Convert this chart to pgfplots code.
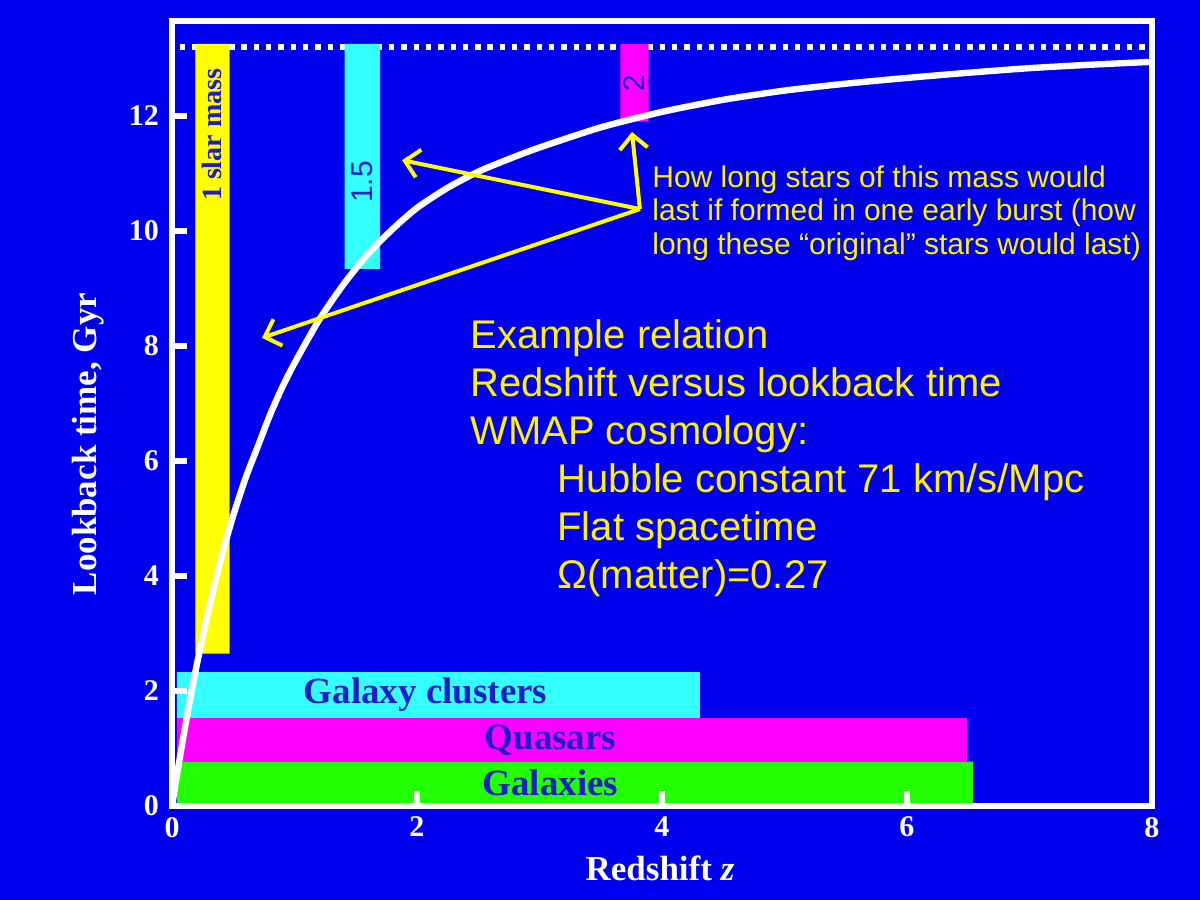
\documentclass[border=0pt]{standalone}
\usepackage{pgfplots}
\pgfplotsset{compat=1.18}
\usepackage{fontspec}
\setmainfont{Liberation Serif}
\newfontfamily\arial{Liberation Sans}
\usetikzlibrary{arrows.meta}
\definecolor{bgblue}{RGB}{0,0,240}
\definecolor{barcyan}{RGB}{51,255,255}
\definecolor{barmag}{RGB}{255,0,255}
\definecolor{bargreen}{RGB}{34,255,0}
\definecolor{baryel}{RGB}{255,255,0}
\definecolor{txtblue}{RGB}{30,30,200}
\definecolor{arryel}{RGB}{255,255,0}
\begin{document}
\begin{tikzpicture}
\fill[bgblue] (0,0) rectangle (600pt,450pt);
\begin{axis}[
  at={(86pt,47pt)}, anchor=south west,
  scale only axis, width=490pt, height=392.5pt,
  xmin=0, xmax=8, ymin=0, ymax=13.65,
  axis line style={white, line width=3pt},
  xtick={0,2,4,6,8}, ytick={0,2,4,6,8,10,12},
  xtick pos=bottom, ytick pos=left,
  tick align=inside, major tick length=7.5pt,
  tick style={white, line width=3pt},
  /pgf/number format/assume math mode=true,
  ticklabel style={font=\fontsize{15}{17}\selectfont\bfseries, text=white},
  xticklabel style={yshift=-2pt},
  yticklabel style={xshift=-3pt},
  xlabel={Redshift \textit{z}},
  ylabel={Lookback time, Gyr},
  label style={font=\fontsize{17.5}{21}\selectfont\bfseries, text=white},
  x label style={at={(axis description cs:0.498,-0.079)}, anchor=center},
  y label style={at={(axis description cs:-0.0857,0.461)}, anchor=center},
  axis on top,
  clip=false,
]
% dotted asymptote
\addplot[white, line width=2.7pt, dash pattern=on 2.7pt off 3.45pt] coordinates {(0.065,13.2) (7.97,13.2)};
% vertical bars
\addplot[fill=baryel, draw=none] coordinates {(0.19,2.65) (0.47,2.65) (0.47,13.25) (0.19,13.25) (0.19,2.65)};
\addplot[fill=barcyan, draw=none] coordinates {(1.41,9.34) (1.70,9.34) (1.70,13.25) (1.41,13.25) (1.41,9.34)};
\addplot[fill=barmag, draw=none] coordinates {(3.66,11.9) (3.89,11.9) (3.89,13.25) (3.66,13.25) (3.66,11.9)};
% horizontal bars
\addplot[fill=barcyan, draw=none] coordinates {(0.04,1.53) (4.31,1.53) (4.31,2.33) (0.04,2.33) (0.04,1.53)};
\addplot[fill=barmag, draw=none] coordinates {(0.04,0.77) (6.49,0.77) (6.49,1.53) (0.04,1.53) (0.04,0.77)};
\addplot[fill=bargreen, draw=none] coordinates {(0.04,0) (6.54,0) (6.54,0.77) (0.04,0.77) (0.04,0)};
% bar labels
\node[rotate=90, text=txtblue, font=\fontsize{14}{16}\selectfont\bfseries, inner sep=0] at (axis cs:0.327,11.67) {1 slar mass};
\node[rotate=90, text=txtblue, font=\arial\fontsize{15}{17}\selectfont, inner sep=0] at (axis cs:1.555,10.85) {1.5};
\node[rotate=90, text=txtblue, font=\arial\fontsize{15}{17}\selectfont, inner sep=0] at (axis cs:3.775,12.57) {2};
\node[text=txtblue, font=\fontsize{18.5}{20}\selectfont\bfseries, inner sep=0] at (axis cs:2.07,1.93) {Galaxy clusters};
\node[text=txtblue, font=\fontsize{18.5}{20}\selectfont\bfseries, inner sep=0] at (axis cs:3.09,1.15) {Quasars};
\node[text=txtblue, font=\fontsize{18.5}{20}\selectfont\bfseries, inner sep=0] at (axis cs:3.09,0.40) {Galaxies};
% curve
\addplot[white, line width=3.2pt, smooth, tension=0.4] coordinates {
(0,0) (0.05,0.66) (0.1,1.29) (0.15,1.88) (0.2,2.43) (0.25,2.93) (0.3,3.42)
(0.4,4.3) (0.5,5.05) (0.6,5.7) (0.7,6.25) (0.8,6.8) (0.9,7.28) (1.0,7.7)
(1.2,8.45) (1.4,9.07) (1.6,9.6) (1.8,10.03) (2.0,10.4) (2.25,10.75)
(2.5,11.03) (2.75,11.25) (3.0,11.45) (3.5,11.8) (4.0,12.07) (4.5,12.28)
(5.0,12.44) (5.5,12.56) (6.0,12.66) (6.5,12.75) (7.0,12.83) (7.5,12.89) (8.0,12.94)};
% arrows
\draw[arryel, line width=2pt, -{Straight Barb[length=7pt,width=14pt]}] (axis cs:3.82,10.38) -- (axis cs:1.878,11.23);
\draw[arryel, line width=2pt, -{Straight Barb[length=7pt,width=14pt]}] (axis cs:3.82,10.38) -- (axis cs:3.755,11.72);
\draw[arryel, line width=2pt, -{Straight Barb[length=7pt,width=14pt]}] (axis cs:3.82,10.38) -- (axis cs:0.735,8.14);
% annotation texts
\node[anchor=west, align=left, inner sep=0, text=yellow, font=\arial\fontsize{15}{16.75}\selectfont] at (axis cs:3.918,10.31)
  {How long stars of this mass would\\last if formed in one early burst (how\\long these “original” stars would last)};
\node[anchor=west, align=left, inner sep=0, text=yellow, font=\arial\fontsize{20}{24}\selectfont] at (axis cs:2.433,6.05)
  {Example relation\\Redshift versus lookback time\\WMAP cosmology:\\\hspace*{43.5pt}Hubble constant 71 km/s/Mpc\\\hspace*{43.5pt}Flat spacetime\\\hspace*{43.5pt}Ω(matter)=0.27};
\end{axis}
\end{tikzpicture}
\end{document}
